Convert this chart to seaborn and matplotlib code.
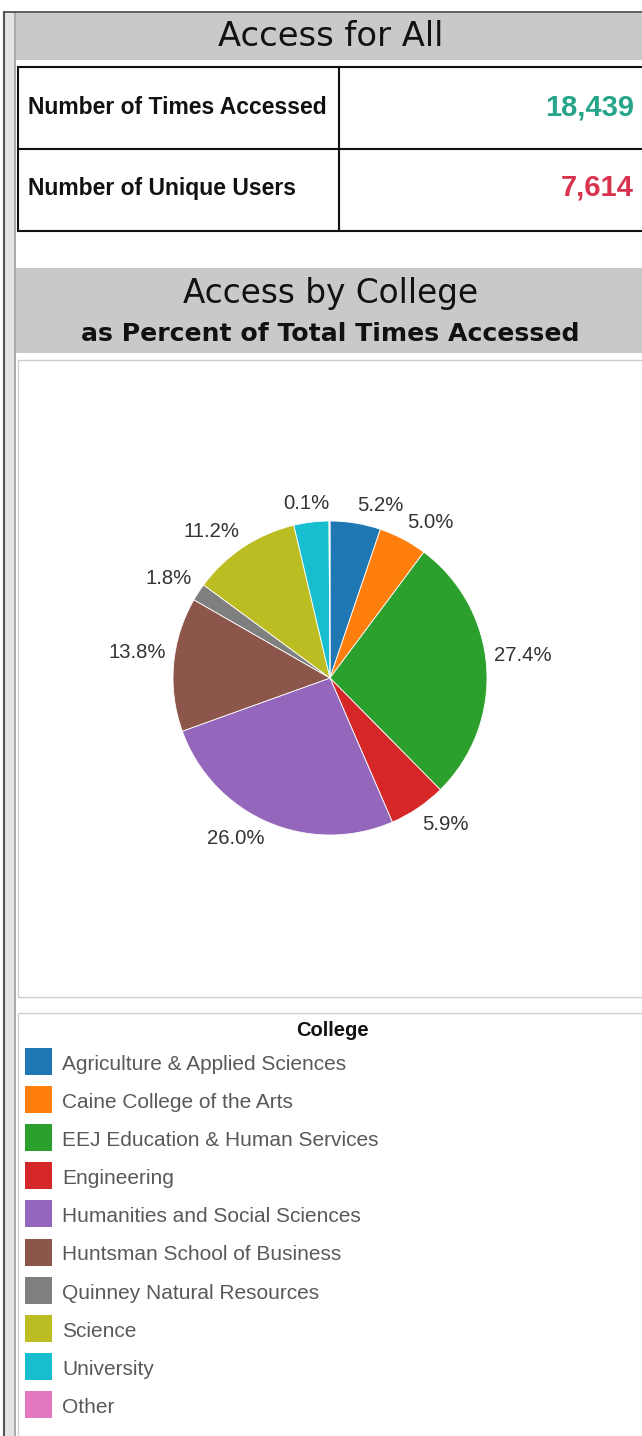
import numpy as np
import pandas as pd
import matplotlib
matplotlib.use("Agg")
import matplotlib.pyplot as plt
from matplotlib.patches import Rectangle
import seaborn as sns

# ---------------- data ----------------
title_main = "Access for All"
metric_names = ["Number of Times Accessed", "Number of Unique Users"]
metric_values = [18439, 7614]
metric_colors = ["#27a58b", "#d8324f"]
pie_title = "Access by College"
pie_subtitle = "as Percent of Total Times Accessed"
colleges = ["Agriculture & Applied Sciences", "Caine College of the Arts",
            "EEJ Education & Human Services", "Engineering",
            "Humanities and Social Sciences", "Huntsman School of Business",
            "Quinney Natural Resources", "Science", "University", "Other"]
pct_values = [5.2, 5.0, 27.4, 5.9, 26.0, 13.8, 1.8, 11.2, 3.6, 0.1]
label_shown = [True, True, True, True, True, True, True, True, False, True]
legend_title = "College"

sns.set_theme(style="white")
plt.rcParams['font.family'] = ['Liberation Sans', 'DejaVu Sans']

palette = sns.color_palette("tab10", 10)
colors = [palette[i] for i in [0, 1, 2, 3, 4, 5, 7, 8, 9, 6]]

W, H = 642, 1436
fig = plt.figure(figsize=(W / 100, H / 100), dpi=100)
fig.patch.set_facecolor("white")
bg = fig.add_axes([0, 0, 1, 1])
bg.set_xlim(0, W)
bg.set_ylim(H, 0)
bg.axis('off')

# outer frame (left double rule + top rule)
bg.add_patch(Rectangle((5, 12), 9, H, facecolor="#e4e4e4", edgecolor="none"))
bg.plot([4, 4], [12, H], color="#555555", lw=1.5)
bg.plot([14.5, 14.5], [12, H], color="#9a9a9a", lw=1.2)
bg.plot([4, W], [12, 12], color="#444444", lw=1.2)

# header 1
bg.add_patch(Rectangle((16, 13), W, 47, facecolor="#c9c9c9", edgecolor="none"))
bg.text(331, 37, title_main, ha="center", va="center", fontsize=24.3,
        family=["DejaVu Sans"], color="#111111")

# KPI table
bg.add_patch(Rectangle((18, 67), W, 164, facecolor="white", edgecolor="#111111", lw=1.5))
bg.plot([18, W], [149, 149], color="#111111", lw=1.5)
bg.plot([339, 339], [67, 231], color="#111111", lw=1.5)
row_y = [107, 188]
for name, val, col, y in zip(metric_names, metric_values, metric_colors, row_y):
    bg.text(28, y, name, ha="left", va="center", fontsize=16.5, fontweight="bold",
            color="#111111")
    bg.text(634, y, f"{val:,}", ha="right", va="center", fontsize=21,
            fontweight="bold", color=col)

# header 2
bg.add_patch(Rectangle((16, 268), W, 85, facecolor="#c9c9c9", edgecolor="none"))
bg.text(331, 294, pie_title, ha="center", va="center", fontsize=23.6,
        family=["DejaVu Sans"], color="#111111")
bg.text(330, 334, pie_subtitle, ha="center", va="center", fontsize=18.1,
        fontweight="bold", family=["DejaVu Sans"], color="#111111")

# pie panel
bg.add_patch(Rectangle((18, 360), W, 637, facecolor="white", edgecolor="#cfcfcf", lw=1))
# legend panel
bg.add_patch(Rectangle((18, 1013), W, 500, facecolor="white", edgecolor="#cfcfcf", lw=1))
bg.text(332, 1030, legend_title, ha="center", va="center", fontsize=14.5,
        fontweight="bold", color="#111111")

# pie
cx, cy, R = 330, 678, 157
half = 220
pax = fig.add_axes([(cx - half) / W, 1 - (cy + half) / H, 2 * half / W, 2 * half / H])
df = pd.DataFrame({"college": colleges, "pct": pct_values, "shown": label_shown})
labels = [f"{p:.1f}%" if s else "" for p, s in zip(df["pct"], df["shown"])]
wedges, texts = pax.pie(df["pct"], colors=colors, startangle=90, counterclock=False,
                        labels=labels, labeldistance=1.05,
                        wedgeprops=dict(linewidth=0.6, edgecolor="white"),
                        textprops=dict(fontsize=14.6, color="#333333"))
lim = half / R
pax.set_xlim(-lim, lim)
pax.set_ylim(-lim, lim)
pax.set_aspect("equal")
pax.axis("off")
for t in texts:
    x, y = t.get_position()
    if y > 0.5 * 1.05:
        t.set_va("bottom")
    elif y < -0.5 * 1.05:
        t.set_va("top")
    elif abs(y) < 0.2:
        t.set_position((x, y + 0.07))

# legend (drawn as swatches + labels)
for i, (name, c) in enumerate(zip(colleges, colors)):
    yc = 1061 + 38.2 * i
    bg.add_patch(Rectangle((25, yc - 13.5), 27, 27, facecolor=c, edgecolor="none"))
    bg.text(62, yc + 1, name, ha="left", va="center_baseline", fontsize=15,
            color="#595959")

fig.savefig("out.png", dpi=100, facecolor="white")
